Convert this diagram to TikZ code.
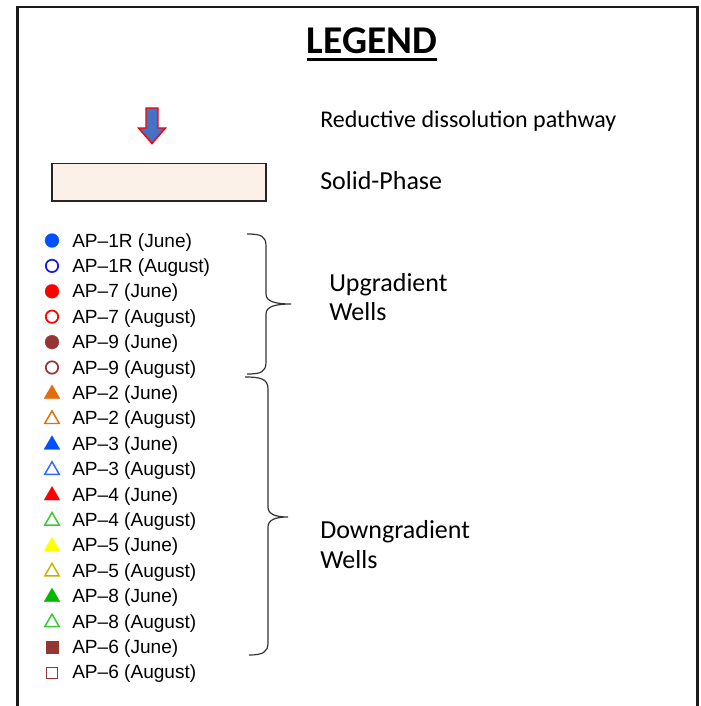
\documentclass[tikz,border=0pt]{standalone}
\usepackage{fontspec}
\setmainfont{Carlito}
\newfontfamily\arialf{Liberation Sans}
\usetikzlibrary{shapes.geometric}
\definecolor{cblue}{HTML}{0050FF}
\definecolor{cblueo}{HTML}{1A1AE6}
\definecolor{cred}{HTML}{FF0000}
\definecolor{cbrown}{HTML}{963634}
\definecolor{corange}{HTML}{E36C0A}
\definecolor{cblue3o}{HTML}{3366FF}
\definecolor{cgreeno}{HTML}{33CC33}
\definecolor{cyellow}{HTML}{FFFF00}
\definecolor{colive}{HTML}{C8B400}
\definecolor{cgreen}{HTML}{00B800}
\definecolor{arrowblue}{HTML}{4472C4}
\definecolor{solidfill}{HTML}{FBF1E8}
\definecolor{framec}{HTML}{1A1A1A}
\tikzset{
  lbl/.style={anchor=base west, inner sep=0pt, font=\arialf\fontsize{14.3}{17}\selectfont},
  cal/.style={anchor=base west, inner sep=0pt, font=\fontsize{19.5}{23}\selectfont},
  circf/.style={circle, inner sep=0pt, minimum size=10.5pt, fill=#1, draw=#1, line width=0.1pt},
  circo/.style={circle, inner sep=0pt, minimum size=9.3pt, draw=#1, line width=1.3pt},
  trif/.style={regular polygon, regular polygon sides=3, inner sep=0pt, minimum size=13.8pt, fill=#1, draw=#1, line width=0.1pt},
  trio/.style={regular polygon, regular polygon sides=3, inner sep=0pt, minimum size=12.6pt, draw=#1, line width=1.1pt},
  sqf/.style={rectangle, inner sep=0pt, minimum size=9pt, fill=#1, draw=#1, line width=0.1pt},
  sqo/.style={rectangle, inner sep=0pt, minimum size=8.2pt, draw=#1, line width=1pt},
  bracestyle/.style={draw=black!80, line width=0.9pt},
}
\begin{document}
\begin{tikzpicture}[x=0.75pt, y=-0.75pt]
\useasboundingbox (0,0) rectangle (700,706);
% frame
\draw[framec, line width=1.6pt] (17.5,706) -- (17.5,7) -- (697.5,7) -- (697.5,706);
% title
\node[anchor=base, inner sep=0pt, font=\bfseries\fontsize{29.5}{34}\selectfont] (title) at (372,53.5) {LEGEND};
\draw[line width=1.6pt] (306.5,59.5) -- (437,59.5);
% reductive arrow
\draw[cred, fill=arrowblue, line width=1.1pt, line join=miter]
  (146,108) -- (158,108) -- (158,128) -- (165.5,128) -- (152,143.5) -- (138.5,128) -- (146,128) -- cycle;
\node[cal, font=\fontsize{18}{22}\selectfont] (red) at (320,128) {Reductive dissolution pathway};
% solid phase
\draw[black!85, fill=solidfill, line width=1.1pt] (52,163.5) rectangle (266,201);
\node[cal] (solid) at (320,189) {Solid-Phase};
% markers and labels
\node[circf=cblue]   (m1)  at (52,240.5) {};
\node[lbl] (l1)  at (72,247) {AP–1R (June)};
\node[circo=cblueo]  (m2)  at (52,265.9) {};
\node[lbl] (l2)  at (72,272.4) {AP–1R (August)};
\node[circf=cred]    (m3)  at (52,291.3) {};
\node[lbl] (l3)  at (72,297.8) {AP–7 (June)};
\node[circo=cred]    (m4)  at (52,316.7) {};
\node[lbl] (l4)  at (72,323.2) {AP–7 (August)};
\node[circf=cbrown]  (m5)  at (52,342.1) {};
\node[lbl] (l5)  at (72,348.6) {AP–9 (June)};
\node[circo=cbrown]  (m6)  at (52,367.5) {};
\node[lbl] (l6)  at (72,374) {AP–9 (August)};
\node[trif=corange]  (m7)  at (52,393.9) {};
\node[lbl] (l7)  at (72,399.4) {AP–2 (June)};
\node[trio=corange]  (m8)  at (52,419.3) {};
\node[lbl] (l8)  at (72,424.8) {AP–2 (August)};
\node[trif=cblue]    (m9)  at (52,444.7) {};
\node[lbl] (l9)  at (72,450.2) {AP–3 (June)};
\node[trio=cblue3o]  (m10) at (52,470.1) {};
\node[lbl] (l10) at (72,475.6) {AP–3 (August)};
\node[trif=cred]     (m11) at (52,495.5) {};
\node[lbl] (l11) at (72,501) {AP–4 (June)};
\node[trio=cgreeno]  (m12) at (52,520.9) {};
\node[lbl] (l12) at (72,526.4) {AP–4 (August)};
\node[trif=cyellow]  (m13) at (52,546.3) {};
\node[lbl] (l13) at (72,551.8) {AP–5 (June)};
\node[trio=colive]   (m14) at (52,571.7) {};
\node[lbl] (l14) at (72,577.2) {AP–5 (August)};
\node[trif=cgreen]   (m15) at (52,597.1) {};
\node[lbl] (l15) at (72,602.6) {AP–8 (June)};
\node[trio=cgreeno]  (m16) at (52,622.5) {};
\node[lbl] (l16) at (72,628) {AP–8 (August)};
\node[sqf=cbrown]    (m17) at (52,647.4) {};
\node[lbl] (l17) at (72,653.4) {AP–6 (June)};
\node[sqo=cbrown]    (m18) at (52,672.8) {};
\node[lbl] (l18) at (72,678.8) {AP–6 (August)};
% braces
\draw[bracestyle] (247,234) .. controls (261,234) and (266,236) .. (266,246) -- (266,294)
  .. controls (266,301) and (274,304) .. (291,304)
  .. controls (274,304) and (266,307) .. (266,314) -- (266,362)
  .. controls (266,372) and (261,374) .. (247,374);
\draw[bracestyle] (245,377) .. controls (261,377) and (268,379) .. (268,389) -- (268,507)
  .. controls (268,514) and (275,517) .. (288,517)
  .. controls (275,517) and (268,520) .. (268,527) -- (268,643)
  .. controls (268,652) and (263,655) .. (249,655);
\node[cal] (up1) at (329,291.5) {Upgradient};
\node[cal] (up2) at (329,320.5) {Wells};
\node[cal] (dn1) at (320,538) {Downgradient};
\node[cal] (dn2) at (320,568.5) {Wells};
\end{tikzpicture}
\end{document}
